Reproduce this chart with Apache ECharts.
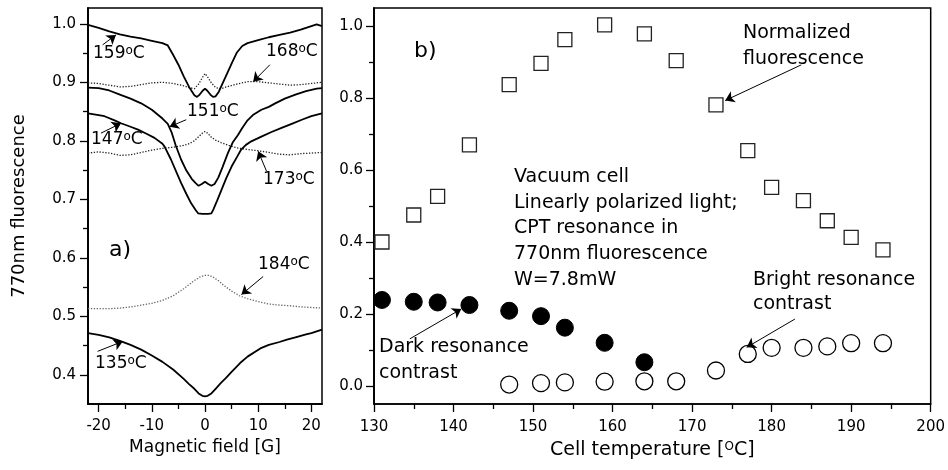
<!DOCTYPE html>
<html>
<head>
<meta charset="utf-8">
<script src="https://cdn.jsdelivr.net/npm/echarts@6/dist/echarts.min.js"></script>
<style>html,body{margin:0;padding:0;background:#fff}#c{width:948px;height:470px}</style>
</head>
<body>
<div id="c"></div>
<script>
// ---------- Panel a) : fluorescence vs magnetic field ----------
const curve159 = [[-22,0.998],[-20,0.993],[-18,0.987],[-16,0.982],[-14,0.978],[-12,0.975],[-10,0.971],[-8,0.967],[-7,0.963],[-6,0.947],[-5,0.930],[-4,0.910],[-3,0.892],[-2,0.878],[-1.5,0.875],[-1,0.879],[-0.4,0.886],[0,0.889],[0.4,0.886],[1,0.879],[1.5,0.875],[2,0.876],[2.6,0.884],[3.2,0.896],[4,0.912],[5,0.932],[6,0.951],[7,0.962],[8,0.967],[10,0.972],[12,0.977],[14,0.981],[16,0.985],[18,0.990],[20,0.996],[21,0.999],[22,0.996]];
const curve168 = [[-22,0.899],[-20,0.898],[-18,0.895],[-16,0.892],[-14,0.893],[-12,0.896],[-10,0.899],[-8,0.900],[-6,0.898],[-4,0.894],[-3,0.891],[-2,0.889],[-1.2,0.897],[-0.5,0.908],[0,0.915],[0.5,0.909],[1.2,0.899],[2,0.891],[3,0.889],[4,0.892],[6,0.897],[8,0.901],[10,0.901],[12,0.899],[14,0.897],[16,0.895],[18,0.896],[20,0.898],[22,0.900]];
const curve151 = [[-22,0.891],[-20,0.890],[-18,0.886],[-16,0.879],[-14,0.872],[-12,0.864],[-10,0.853],[-8,0.838],[-7,0.829],[-6.3,0.815],[-5.5,0.792],[-4.5,0.768],[-3.5,0.749],[-2.5,0.735],[-1.8,0.728],[-1.2,0.723],[-0.6,0.726],[0,0.730],[0.6,0.726],[1.2,0.723],[1.8,0.726],[2.5,0.737],[3.3,0.755],[4.3,0.779],[5.2,0.797],[6.2,0.810],[7,0.822],[8,0.835],[9,0.844],[10.6,0.853],[12,0.858],[13.2,0.864],[15,0.872],[17,0.879],[19,0.885],[21,0.889],[22,0.890]];
const curve147 = [[-22,0.847],[-20,0.844],[-18.9,0.842],[-17,0.835],[-15.8,0.830],[-14,0.824],[-12.6,0.819],[-11,0.812],[-9.5,0.805],[-8,0.795],[-7.6,0.790],[-6.4,0.768],[-5.5,0.749],[-4.5,0.728],[-3.5,0.709],[-2.6,0.693],[-1.8,0.682],[-1.3,0.676],[-0.5,0.675],[0.6,0.675],[1.2,0.676],[1.6,0.683],[2.3,0.698],[3.1,0.716],[4,0.736],[5,0.756],[6,0.772],[6.8,0.785],[7.7,0.793],[8.7,0.799],[10.6,0.807],[12.5,0.815],[14.4,0.822],[16.3,0.829],[18.2,0.836],[20,0.842],[22,0.847]];
const curve173 = [[-22,0.779],[-20,0.781],[-18,0.779],[-16,0.775],[-14,0.776],[-12,0.780],[-10,0.784],[-8,0.787],[-6,0.789],[-4,0.792],[-3,0.795],[-2,0.800],[-1.2,0.807],[-0.5,0.813],[0,0.816],[0.5,0.813],[1.2,0.806],[2,0.801],[3,0.797],[4.5,0.792],[6,0.788],[8,0.785],[10,0.783],[12,0.780],[14,0.777],[16,0.776],[18,0.778],[20,0.779],[22,0.780]];
const curve184 = [[-22,0.513],[-20,0.513],[-18,0.513],[-16,0.514],[-14,0.516],[-12,0.519],[-10,0.522],[-8,0.527],[-6,0.535],[-4,0.547],[-3,0.554],[-2,0.561],[-1,0.567],[0,0.570],[0.8,0.570],[1.5,0.567],[2.5,0.561],[3.5,0.553],[5,0.543],[6.5,0.535],[8,0.530],[10,0.525],[12,0.521],[14,0.519],[16,0.518],[18,0.516],[20,0.515],[22,0.514]];
const curve135 = [[-22,0.471],[-20,0.468],[-18,0.464],[-16,0.458],[-14,0.451],[-12,0.443],[-10,0.433],[-8,0.422],[-6,0.409],[-4,0.393],[-3,0.384],[-2,0.376],[-1.2,0.368],[-0.5,0.364],[0,0.363],[0.5,0.364],[1.2,0.368],[2,0.376],[3,0.386],[4,0.395],[5,0.405],[6.6,0.420],[8,0.431],[10.4,0.445],[12,0.451],[14,0.456],[15.4,0.460],[17,0.464],[19,0.469],[20,0.471],[22,0.477]];
const fieldMajorTicks = [-20,-10,0,10,20];
const fieldMinorTicks = [-15,-5,5,15];
const fluoMajorTicks = [0.4,0.5,0.6,0.7,0.8,0.9,1.0];
const fluoMinorTicks = [0.45,0.55,0.65,0.75,0.85,0.95];

// ---------- Panel b) : contrast vs cell temperature ----------
const normTemps = [131,135,138,142,147,151,154,159,164,168,173,177,180,184,187,190,194];
const normValues = [0.400,0.475,0.527,0.670,0.837,0.896,0.962,1.003,0.978,0.904,0.781,0.654,0.552,0.515,0.459,0.413,0.378];
const darkTemps = [131,135,138,142,147,151,154,159,164];
const darkValues = [0.239,0.234,0.232,0.225,0.209,0.194,0.162,0.120,0.066];
const brightTemps = [147,151,154,159,164,168,173,177,180,184,187,190,194];
const brightValues = [0.004,0.008,0.010,0.012,0.013,0.013,0.043,0.089,0.106,0.106,0.110,0.119,0.119];
const contrastMajorTicks = [0,0.2,0.4,0.6,0.8,1.0];
const contrastMinorTicks = [0.1,0.3,0.5,0.7,0.9];

const FONT = 'DejaVu Sans';
const zip = (xs, ys) => xs.map((x, i) => [x, ys[i]]);

const chart = echarts.init(document.getElementById('c'), null, {renderer: 'canvas'});

function arrowLines(list) {
  return {
    silent: true, animation: false,
    symbol: ['none', 'arrow'], symbolSize: 9,
    label: {show: false},
    lineStyle: {color: '#000', width: 1, type: 'solid'},
    emphasis: {disabled: true},
    data: list.map(a => [{coord: a[0]}, {coord: a[1]}])
  };
}

const tickLabel = {color: '#000', fontSize: 15, fontFamily: FONT};
const axLine = {show: true, onZero: false, lineStyle: {color: '#000', width: 1.5}};

function lineSeries(data, dotted, color) {
  return {
    type: 'line', xAxisIndex: 0, yAxisIndex: 0, data: data,
    showSymbol: false, symbol: 'none', smooth: false, animation: false,
    lineStyle: {color: color || '#000', width: dotted ? 1.3 : 1.8, type: dotted ? [1.3, 1.6] : 'solid'},
    emphasis: {disabled: true}
  };
}

// rich styles: d = main text in a tall line box, s = small raised "o" at the top of the line
function richFor(size, lineH, supSize, supH) {
  return {
    d: {fontSize: size, fontFamily: FONT, fill: '#000', color: '#000', lineHeight: lineH, verticalAlign: 'top'},
    s: {fontSize: supSize, fontFamily: FONT, fill: '#000', color: '#000', lineHeight: supH, verticalAlign: 'top'}
  };
}

function tempLabel(x, y, t) {
  return {
    type: 'text', x: x, y: y, silent: true,
    style: {
      text: '{d|' + t + '}{s|o}{d|C}', fontSize: 17, fontFamily: FONT, fill: '#000',
      textAlign: 'left', textVerticalAlign: 'middle', align: 'left', verticalAlign: 'middle',
      rich: richFor(17, 24, 12, 12)
    }
  };
}

function label(x, y, text, size, lh) {
  return {
    type: 'text', x: x, y: y, silent: true,
    style: {
      text: text, fontSize: size, fontFamily: FONT, fill: '#000',
      textAlign: 'left', textVerticalAlign: 'middle', align: 'left', verticalAlign: 'middle',
      lineHeight: lh || undefined
    }
  };
}

const option = {
  animation: false,
  backgroundColor: '#fff',
  textStyle: {fontFamily: FONT},
  grid: [
    {left: 88, top: 8, width: 234, height: 396, show: true, borderColor: '#000', borderWidth: 1.5, backgroundColor: 'transparent'},
    {left: 374, top: 8, width: 559, height: 396, show: true, borderColor: '#000', borderWidth: 1.5, backgroundColor: 'transparent'}
  ],
  xAxis: [
    {type: 'value', gridIndex: 0, position: 'bottom', min: -22, max: 22,
     axisLine: axLine, splitLine: {show: false},
     axisTick: {show: true, inside: false, length: 8, lineStyle: {color: '#000', width: 1.3}, customValues: fieldMajorTicks},
     axisLabel: Object.assign({margin: 15, customValues: fieldMajorTicks, formatter: v => String(Math.round(v))}, tickLabel),
     name: 'Magnetic field [G]', nameLocation: 'middle', nameGap: 25,
     nameTextStyle: {color: '#000', fontSize: 17, fontFamily: FONT}},
    {type: 'value', gridIndex: 0, position: 'bottom', min: -22, max: 22,
     axisLine: axLine, splitLine: {show: false},
     axisTick: {show: true, inside: false, length: 5, lineStyle: {color: '#000', width: 1.3}, customValues: fieldMinorTicks},
     axisLabel: {show: false}},
    {type: 'value', gridIndex: 1, position: 'bottom', min: 130, max: 200, interval: 10,
     axisLine: axLine, splitLine: {show: false},
     axisTick: {show: true, inside: false, length: 8, lineStyle: {color: '#000', width: 1.3}},
     minorTick: {show: true, splitNumber: 2, length: 5, lineStyle: {color: '#000', width: 1.3}},
     minorSplitLine: {show: false},
     axisLabel: Object.assign({margin: 16}, tickLabel),
     name: '{d|Cell temperature [}{s|O}{d|C]}', nameLocation: 'middle', nameGap: 37,
     nameTextStyle: {color: '#000', fontSize: 19, fontFamily: FONT, rich: richFor(19, 26, 12, 10)}}
  ],
  yAxis: [
    {type: 'value', gridIndex: 0, position: 'left', min: 0.35, max: 1.027,
     axisLine: axLine, splitLine: {show: false},
     axisTick: {show: true, inside: false, length: 8, lineStyle: {color: '#000', width: 1.3}, customValues: fluoMajorTicks},
     axisLabel: Object.assign({margin: 12, customValues: fluoMajorTicks, formatter: v => v.toFixed(1)}, tickLabel),
     name: '770nm fluorescence', nameLocation: 'middle', nameGap: 60,
     nameTextStyle: {color: '#000', fontSize: 18, fontFamily: FONT}},
    {type: 'value', gridIndex: 0, position: 'left', min: 0.35, max: 1.027,
     axisLine: axLine, splitLine: {show: false},
     axisTick: {show: true, inside: false, length: 5, lineStyle: {color: '#000', width: 1.3}, customValues: fluoMinorTicks},
     axisLabel: {show: false}},
    {type: 'value', gridIndex: 1, position: 'left', min: -0.05, max: 1.05,
     axisLine: axLine, splitLine: {show: false},
     axisTick: {show: true, inside: false, length: 8, lineStyle: {color: '#000', width: 1.3}, customValues: contrastMajorTicks},
     axisLabel: Object.assign({margin: 11, customValues: contrastMajorTicks, formatter: v => v.toFixed(1)}, tickLabel)},
    {type: 'value', gridIndex: 1, position: 'left', min: -0.05, max: 1.05,
     axisLine: axLine, splitLine: {show: false},
     axisTick: {show: true, inside: false, length: 5, lineStyle: {color: '#000', width: 1.3}, customValues: contrastMinorTicks},
     axisLabel: {show: false}}
  ],
  series: [
    lineSeries(curve184, true, '#666'),
    lineSeries(curve173, true, '#222'),
    lineSeries(curve168, true, '#222'),
    lineSeries(curve159, false),
    lineSeries(curve151, false),
    lineSeries(curve147, false),
    Object.assign(lineSeries(curve135, false), {
      markLine: arrowLines([
        [[-19.25, 0.964], [-16.74, 0.981]],
        [[12.2, 0.930], [9.06, 0.901]],
        [[-3.53, 0.836], [-6.66, 0.824]],
        [[-19.57, 0.813], [-15.79, 0.830]],
        [[11.57, 0.748], [10.0, 0.782]],
        [[10.94, 0.568], [6.85, 0.537]],
        [[-20.19, 0.440], [-15.47, 0.457]]
      ])
    }),
    {type: 'scatter', xAxisIndex: 2, yAxisIndex: 2, data: zip(normTemps, normValues),
     symbol: 'rect', symbolSize: 14, animation: false, emphasis: {disabled: true},
     itemStyle: {color: '#fff', borderColor: '#222', borderWidth: 1.3, opacity: 1},
     markLine: arrowLines([
       [[183.72, 0.892], [174.16, 0.793]],
       [[134.51, 0.131], [140.98, 0.214]],
       [[182.93, 0.186], [176.87, 0.1075]]
     ])},
    {type: 'scatter', xAxisIndex: 2, yAxisIndex: 2, data: zip(darkTemps, darkValues),
     symbol: 'circle', symbolSize: 17, animation: false, emphasis: {disabled: true},
     itemStyle: {color: '#000', borderColor: '#000', borderWidth: 1, opacity: 1}},
    {type: 'scatter', xAxisIndex: 2, yAxisIndex: 2, data: zip(brightTemps, brightValues),
     symbol: 'circle', symbolSize: 17, animation: false, emphasis: {disabled: true},
     itemStyle: {color: '#fff', borderColor: '#000', borderWidth: 1.3, opacity: 1}}
  ],
  graphic: [
    tempLabel(93, 57, '159'),
    tempLabel(266, 55, '168'),
    tempLabel(187, 115, '151'),
    tempLabel(91, 143, '147'),
    tempLabel(263, 183, '173'),
    label(109, 250, 'a)', 22),
    tempLabel(258, 268, '184'),
    tempLabel(95, 367, '135'),
    label(414, 51, 'b)', 22),
    label(514, 228.5, 'Vacuum cell\nLinearly polarized light;\nCPT resonance in\n770nm fluorescence\nW=7.8mW', 19, 25.7),
    label(743, 46, 'Normalized\nfluorescence', 19, 26),
    label(379, 360, 'Dark resonance\ncontrast', 19, 26),
    label(753, 292, 'Bright resonance\ncontrast', 19, 24.5)
  ]
};
chart.setOption(option);
</script>
</body>
</html>
